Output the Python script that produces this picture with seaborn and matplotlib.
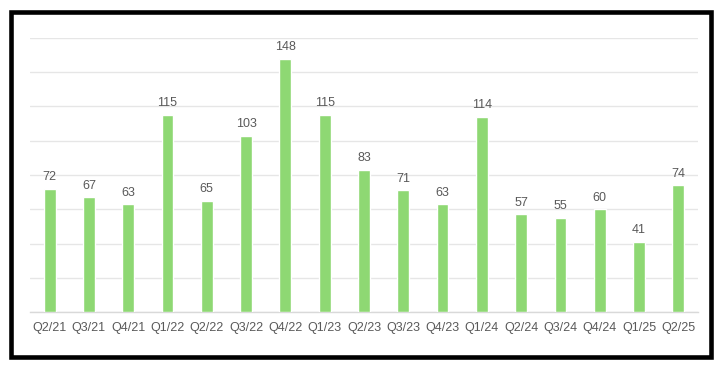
import pandas as pd
import matplotlib.pyplot as plt
import seaborn as sns
from matplotlib.patches import Rectangle

quarters = ["Q2/21", "Q3/21", "Q4/21", "Q1/22", "Q2/22", "Q3/22", "Q4/22", "Q1/23",
            "Q2/23", "Q3/23", "Q4/23", "Q1/24", "Q2/24", "Q3/24", "Q4/24", "Q1/25", "Q2/25"]
values = [72, 67, 63, 115, 65, 103, 148, 115, 83, 71, 63, 114, 57, 55, 60, 41, 74]

df = pd.DataFrame({"quarter": quarters, "value": values})

sns.set_style("white")
plt.rcParams["font.family"] = ["Liberation Sans", "DejaVu Sans"]

fig = plt.figure(figsize=(7.19, 3.65), dpi=100)
ax = fig.add_axes([0.0417, 0.145, 0.929, 0.751])

sns.barplot(x="quarter", y="value", data=df, color="#8ED873", width=0.3,
            saturation=1, ax=ax, zorder=3)

ax.set_ylim(0, 160)
ax.set_xlim(-0.5, len(quarters) - 0.5)
ax.set_yticks(range(0, 161, 20))
ax.yaxis.grid(True, color="#e6e6e6", linewidth=1, zorder=0)
ax.set_yticklabels([])
ax.tick_params(axis="y", length=0)
ax.tick_params(axis="x", length=0, labelsize=9, colors="#595959", pad=7)
ax.set_xlabel("")
ax.set_ylabel("")
for side in ["top", "right", "left"]:
    ax.spines[side].set_visible(False)
ax.spines["bottom"].set_color("#d9d9d9")
ax.spines["bottom"].set_linewidth(1)

# value labels above bars
for i, v in enumerate(values):
    ax.annotate(str(v), (i, v), xytext=(0, 4), textcoords="offset points",
                ha="center", va="bottom", fontsize=9, color="#595959")

# black frame around the chart
fig.patches.append(Rectangle((10.5 / 719, 8.0 / 365), 700.5 / 719, 345.5 / 365,
                             transform=fig.transFigure, fill=False,
                             edgecolor="black", linewidth=3.3, zorder=10))

fig.savefig("out.png", dpi=100)
